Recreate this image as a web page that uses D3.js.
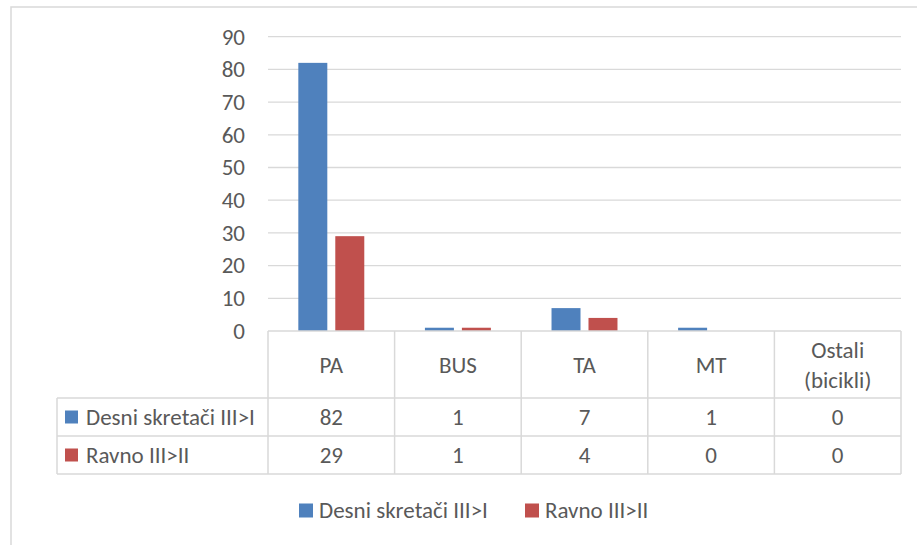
<!DOCTYPE html>
<html>
<head>
<meta charset="utf-8">
<script src="https://cdn.jsdelivr.net/npm/d3@7"></script>
<style>
  body { margin: 0; background: #fff; }
  text { font-family: Carlito, Lato, "Liberation Sans", sans-serif; fill: #595959; }
</style>
</head>
<body>
<div id="chartarea"></div>
<script>
const categories = ['PA', 'BUS', 'TA', 'MT', 'Ostali (bicikli)'];
const categoryLines = [['PA'], ['BUS'], ['TA'], ['MT'], ['Ostali', '(bicikli)']];
const seriesNames = ['Desni skretači III>I', 'Ravno III>II'];
const desniValues = [82, 1, 7, 1, 0];
const ravnoValues = [29, 1, 4, 0, 0];
const yTicks = [0, 10, 20, 30, 40, 50, 60, 70, 80, 90];
const colors = ['#4f81bd', '#c0504d'];

const W = 917, H = 545;
const fontSize = 23;
const grid = '#d9d9d9';

const svg = d3.select('#chartarea')
    .append('svg')
        .attr('width', W)
        .attr('height', H);

// chart border
svg.append('rect')
    .attr('x', 11).attr('y', 7)
    .attr('width', W + 20).attr('height', H + 20)
    .attr('fill', 'none')
    .attr('stroke', grid)
    .attr('stroke-width', 1.5);

const plotLeft = 268, plotRight = 901;
const y = d3.scaleLinear().domain([0, 90]).range([331, 36.7]);
const x = d3.scaleBand().domain(categories).range([plotLeft, plotRight]);
const xs = d3.scaleBand().domain(seriesNames).range([0, x.bandwidth()])
    .paddingInner(0.216).paddingOuter(0.82);

// gridlines
svg.append('g')
    .selectAll('line')
    .data(yTicks.filter(d => d > 0))
    .join('line')
        .attr('x1', plotLeft).attr('x2', plotRight)
        .attr('y1', d => y(d)).attr('y2', d => y(d))
        .attr('stroke', grid)
        .attr('stroke-width', 1.3);

// y axis labels
const yAxis = d3.axisLeft(y).tickValues(yTicks).tickSize(0).tickPadding(0);
const yg = svg.append('g')
    .attr('transform', 'translate(245,0)')
    .call(yAxis);
yg.select('.domain').remove();
yg.selectAll('text')
    .attr('font-size', fontSize)
    .style('font-family', null)
    .attr('fill', '#595959');

// bars
const seriesData = [desniValues, ravnoValues];
seriesData.forEach((vals, si) => {
    svg.append('g')
        .selectAll('rect')
        .data(vals)
        .join('rect')
            .attr('x', (d, i) => x(categories[i]) + xs(seriesNames[si]))
            .attr('y', d => y(d))
            .attr('width', xs.bandwidth())
            .attr('height', d => y(0) - y(d))
            .attr('fill', colors[si]);
});

// data table
const tableLeft = 57;
const rowY = [331, 398, 436, 474];
const tg = svg.append('g').attr('stroke', grid).attr('stroke-width', 1.5);
tg.append('line').attr('x1', plotLeft).attr('x2', plotRight).attr('y1', rowY[0]).attr('y2', rowY[0]);
rowY.slice(1).forEach(ry => {
    tg.append('line').attr('x1', tableLeft).attr('x2', plotRight).attr('y1', ry).attr('y2', ry);
});
tg.append('line').attr('x1', tableLeft).attr('x2', tableLeft).attr('y1', rowY[1]).attr('y2', rowY[3]);
categories.concat(['end']).forEach((c, i) => {
    const lx = i < categories.length ? x(c) : plotRight;
    tg.append('line').attr('x1', lx).attr('x2', lx).attr('y1', rowY[0]).attr('y2', rowY[3]);
});

// header labels
categoryLines.forEach((lines, i) => {
    const cx = x(categories[i]) + x.bandwidth() / 2;
    const midY = (rowY[0] + rowY[1]) / 2;
    lines.forEach((ln, j) => {
        svg.append('text')
            .attr('x', cx)
            .attr('y', midY + (j - (lines.length - 1) / 2) * 30)
            .attr('dy', '0.35em')
            .attr('text-anchor', 'middle')
            .attr('font-size', fontSize)
            .text(ln);
    });
});

// rows
seriesData.forEach((vals, si) => {
    const midY = (rowY[si + 1] + rowY[si + 2]) / 2;
    svg.append('rect')
        .attr('x', 65).attr('y', midY - 6.5)
        .attr('width', 13).attr('height', 13)
        .attr('fill', colors[si]);
    svg.append('text')
        .attr('x', 86).attr('y', midY).attr('dy', '0.35em')
        .attr('font-size', fontSize)
        .text(seriesNames[si]);
    vals.forEach((v, i) => {
        svg.append('text')
            .attr('x', x(categories[i]) + x.bandwidth() / 2)
            .attr('y', midY).attr('dy', '0.35em')
            .attr('text-anchor', 'middle')
            .attr('font-size', fontSize)
            .text(v);
    });
});

// legend
const legendX = [299, 525];
seriesNames.forEach((name, si) => {
    svg.append('rect')
        .attr('x', legendX[si]).attr('y', 503.5)
        .attr('width', 14).attr('height', 14)
        .attr('fill', colors[si]);
    svg.append('text')
        .attr('x', legendX[si] + 20).attr('y', 510).attr('dy', '0.35em')
        .attr('font-size', fontSize)
        .text(name);
});
</script>
</body>
</html>
